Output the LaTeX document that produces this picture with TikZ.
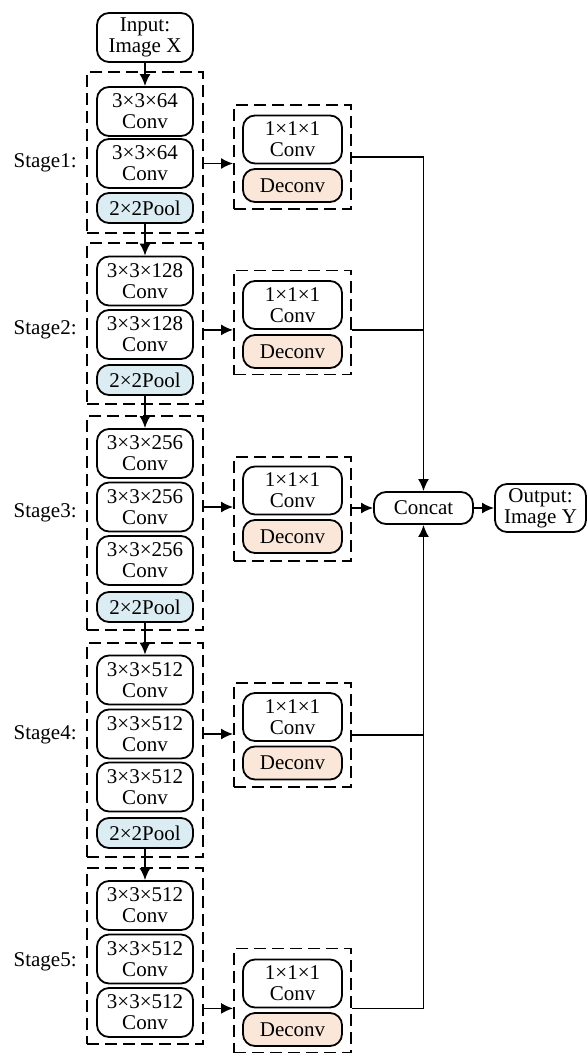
\documentclass[tikz,border=0pt]{standalone}
\usepackage{fontspec}
\setmainfont{Liberation Serif}
\usetikzlibrary{arrows.meta}
\definecolor{poolblue}{RGB}{219,237,243}
\definecolor{deconvtan}{RGB}{250,231,217}

\begin{document}
\begin{tikzpicture}[x=0.5pt, y=-0.5pt,
    font=\fontsize{10.5}{10.5}\selectfont,
    blk/.style={draw, line width=0.9pt, rounded corners=6pt, align=center,
      inner sep=0pt, minimum width=48pt, minimum height=24.5pt},
    poolblk/.style={blk, fill=poolblue, minimum height=15pt},
    sideblk/.style={blk, minimum width=49.5pt, minimum height=24pt},
    deconvblk/.style={sideblk, fill=deconvtan, minimum height=16.5pt},
    dashbox/.style={draw, line width=0.9pt, dash pattern=on 6pt off 3pt, inner sep=0pt},
    stagelbl/.style={anchor=east, inner sep=0pt},
    arr/.style={-{Latex[length=6pt,width=5.5pt]}, line width=0.9pt},
    ln/.style={line width=0.9pt}]
      \useasboundingbox (0,0) rectangle (587,1053);

      \node[blk] (in) at(145, 37.5){Input:\\Image X};

      % stage 1
      \node[dashbox, minimum width=58pt, minimum height=80.5pt] (st1) at(145, 152.5){};
        \node[blk] (c1a) at(145, 111.5){3×3×64\\Conv};
        \node[blk] (c1b) at(145, 163.5){3×3×64\\Conv};
        \node[poolblk] (p1) at(145, 208){2×2Pool};
      \node[stagelbl] (l1) at(77, 163){Stage1:};

      % stage 2
      \node[dashbox, minimum width=58pt, minimum height=80.5pt] (st2) at(145, 323.5){};
        \node[blk] (c2a) at(145, 281){3×3×128\\Conv};
        \node[blk] (c2b) at(145, 334.5){3×3×128\\Conv};
        \node[poolblk] (p2) at(145, 380){2×2Pool};
      \node[stagelbl] (l2) at(77, 330){Stage2:};

      % stage 3
      \node[dashbox, minimum width=58pt, minimum height=107pt] (st3) at(145, 523){};
        \node[blk] (c3a) at(145, 453.5){3×3×256\\Conv};
        \node[blk] (c3b) at(145, 507){3×3×256\\Conv};
        \node[blk] (c3c) at(145, 560.5){3×3×256\\Conv};
        \node[poolblk] (p3) at(145, 607){2×2Pool};
      \node[stagelbl] (l3) at(77, 513){Stage3:};

      % stage 4
      \node[dashbox, minimum width=58pt, minimum height=107pt] (st4) at(145, 750){};
        \node[blk] (c4a) at(145, 680){3×3×512\\Conv};
        \node[blk] (c4b) at(145, 734){3×3×512\\Conv};
        \node[blk] (c4c) at(145, 787){3×3×512\\Conv};
        \node[poolblk] (p4) at(145, 833){2×2Pool};
      \node[stagelbl] (l4) at(77, 735){Stage4:};

      % stage 5
      \node[dashbox, minimum width=58pt, minimum height=88pt] (st5) at(145, 956){};
        \node[blk] (c5a) at(145, 905.5){3×3×512\\Conv};
        \node[blk] (c5b) at(145, 959){3×3×512\\Conv};
        \node[blk] (c5c) at(145, 1012.5){3×3×512\\Conv};
      \node[stagelbl] (l5) at(77, 962){Stage5:};

      % side branches
      \node[dashbox, minimum width=58.5pt, minimum height=52pt] (sd1) at(292.5, 157){};
        \node[sideblk] (k1) at(292.5, 139.5){1×1×1\\Conv};
        \node[deconvblk] (d1) at(292.5, 185.5){Deconv};
      \node[dashbox, minimum width=58.5pt, minimum height=52pt] (sd2) at(292.5, 322.5){};
        \node[sideblk] (k2) at(292.5, 305){1×1×1\\Conv};
        \node[deconvblk] (d2) at(292.5, 351.5){Deconv};
      \node[dashbox, minimum width=58.5pt, minimum height=52pt] (sd3) at(292.5, 509){};
        \node[sideblk] (k3) at(292.5, 490.5){1×1×1\\Conv};
        \node[deconvblk] (d3) at(292.5, 536.5){Deconv};
      \node[dashbox, minimum width=58.5pt, minimum height=52pt] (sd4) at(292.5, 735){};
        \node[sideblk] (k4) at(292.5, 717){1×1×1\\Conv};
        \node[deconvblk] (d4) at(292.5, 763){Deconv};
      \node[dashbox, minimum width=58.5pt, minimum height=52pt] (sd5) at(292.5, 1000.5){};
        \node[sideblk] (k5) at(292.5, 983.5){1×1×1\\Conv};
        \node[deconvblk] (d5) at(292.5, 1029.5){Deconv};

      \node[blk, minimum width=49.5pt, minimum height=16pt] (concat) at(423.5, 508){Concat};
      \node[blk, minimum width=45.5pt, minimum height=24pt] (out) at(540.5, 508){Output:\\Image Y};

      % down the backbone
      \draw[arr] (in) to (c1a);
      \draw[arr] (p1) to (c2a);
      \draw[arr] (p2) to (c3a);
      \draw[arr] (p3) to (c4a);
      \draw[arr] (p4) to (c5a);

      % into the side branches
      \draw[arr] (st1.east |- c1b) to (sd1.west |- c1b);
      \draw[arr] (st2.east |- k2.south) to (sd2.west |- k2.south);
      \draw[arr] (st3.east |- c3b) to (sd3.west |- c3b);
      \draw[arr] (st4.east |- c4b) to (sd4.west |- c4b);
      \draw[arr] (st5.east |- k5.south) to (sd5.west |- k5.south);

      % fusion
      \draw[arr] (sd1.east) -| (concat.north);
      \draw[ln] (sd2.east |- k2.south) to (concat.north |- k2.south);
      \draw[arr] (sd3.east |- concat) to (concat.west);
      \draw[arr] (sd5.east |- k5.south) -| (concat.south);
      \draw[ln] (sd4.east) to (concat.south |- sd4.east);
      \draw[arr] (concat) to (out);
    \end{tikzpicture}
\end{document}
